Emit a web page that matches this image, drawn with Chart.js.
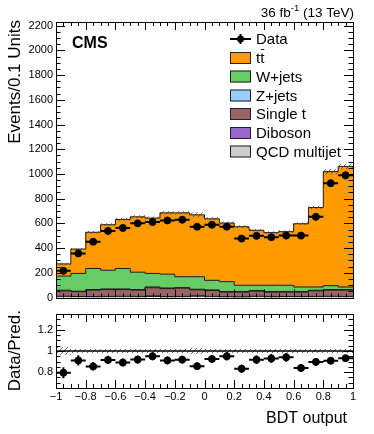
<!DOCTYPE html>
<html>
<head>
<meta charset="utf-8">
<script src="https://cdn.jsdelivr.net/npm/chart.js@4.4.1/dist/chart.umd.min.js"></script>
<style>
body { margin: 0; background: #fff; }
#wrap { position: relative; width: 374px; height: 434px; }
canvas { position: absolute; left: 0; }
</style>
</head>
<body>
<div id="wrap">
  <canvas id="main" width="374" height="305" style="top:0"></canvas>
  <canvas id="ratio" width="374" height="129" style="top:305px"></canvas>
</div>
<script>
// bin edges of the BDT output histogram
const binEdges = [-1, -0.9, -0.8, -0.7, -0.6, -0.5, -0.4, -0.3, -0.2, -0.1, 0,
                  0.1, 0.2, 0.3, 0.4, 0.5, 0.6, 0.7, 0.8, 0.9, 1];

// events per bin
const dataCounts = [216, 357, 451, 539, 563, 600, 611, 624, 629, 573,
                    589, 573, 477, 499, 488, 501, 501, 653, 925, 989];
const dataErr    = [14, 19, 21, 23, 24, 25, 25, 25, 25, 24,
                    24, 24, 22, 22, 22, 22, 22, 26, 30, 31];
const ttbar      = [99, 197, 293, 368, 397, 448, 448, 496, 517, 501,
                    498, 475, 474, 445, 426, 434, 512, 643, 923, 976];
const wjets      = [114, 144, 171, 152, 166, 141, 110, 112, 88, 101,
                    78, 80, 51, 43, 51, 51, 37, 26, 32, 21];
const zjets      = [5, 4, 5, 5, 5, 5, 6, 5, 5, 5, 4, 4, 4, 4, 4, 4, 4, 5, 5, 5];
const singleTop  = [44, 39, 51, 55, 54, 50, 66, 64, 66, 48,
                    48, 37, 38, 42, 37, 36, 36, 45, 49, 50];
const diboson    = [4, 3, 4, 4, 4, 4, 5, 4, 4, 4, 3, 3, 3, 4, 3, 3, 3, 4, 4, 4];
const qcd        = [6, 5, 4, 5, 6, 5, 8, 4, 5, 10, 6, 4, 3, 6, 4, 5, 5, 5, 6, 5];
// relative MC uncertainty per bin
const mcUnc      = [0.037, 0.02, 0.02, 0.02, 0.02, 0.02, 0.02, 0.02, 0.02, 0.03,
                    0.02, 0.02, 0.02, 0.02, 0.02, 0.02, 0.02, 0.02, 0.02, 0.02];

const xTicks = [-1, -0.8, -0.6, -0.4, -0.2, 0, 0.2, 0.4, 0.6, 0.8, 1];
const xTickLabels = ["\u22121", "\u22120.8", "\u22120.6", "\u22120.4", "\u22120.2", "0",
                     "0.2", "0.4", "0.6", "0.8", "1"];
const yTicksMain = [0, 200, 400, 600, 800, 1000, 1200, 1400, 1600, 1800, 2000, 2200];
const yTicksRatio = [0.8, 1, 1.2];

const colors = {
    ttbar: "#ff9a00",
    wjets: "#66cc66",
    zjets: "#99ccff",
    singleTop: "#9a6464",
    diboson: "#9966cc",
    qcd: "#cccccc"
};

const FONT = "'Liberation Sans', Arial, Helvetica, sans-serif";

const centers = binEdges.slice(0, -1).map((e, i) => (e + binEdges[i + 1]) / 2);
const totals = centers.map((c, i) => ttbar[i] + wjets[i] + zjets[i] + singleTop[i] + diboson[i] + qcd[i]);

function stepPoints(vals) {
    return binEdges.map((x, i) => ({ x: x, y: vals[Math.min(i, vals.length - 1)] }));
}

function hatchPattern(ctx) {
    const c = document.createElement('canvas');
    c.width = 5; c.height = 5;
    const g = c.getContext('2d');
    g.strokeStyle = "#444";
    g.lineWidth = 0.8;
    g.beginPath();
    g.moveTo(0, 5); g.lineTo(5, 0);
    g.moveTo(-1, 1); g.lineTo(1, -1);
    g.moveTo(4, 6); g.lineTo(6, 4);
    g.stroke();
    return ctx.createPattern(c, 'repeat');
}

// frame + inward ticks, ROOT style
function drawFrame(chart, xs, ys, opt) {
    const ctx = chart.ctx, a = chart.chartArea;
    const x = chart.scales.x, y = chart.scales.y;
    ctx.save();
    ctx.strokeStyle = "#000";
    ctx.lineWidth = 1;
    ctx.beginPath();
    xs.minor.forEach(v => {
        const px = Math.round(x.getPixelForValue(v)) + 0.5;
        const len = xs.major.includes(+v.toFixed(2)) ? opt.xMajor : opt.xMinor;
        ctx.moveTo(px, a.bottom); ctx.lineTo(px, a.bottom - len);
        ctx.moveTo(px, a.top); ctx.lineTo(px, a.top + len);
    });
    ys.minor.forEach(v => {
        const py = Math.round(y.getPixelForValue(v)) + 0.5;
        const len = ys.major.some(m => Math.abs(m - v) < 1e-6) ? opt.yMajor : opt.yMinor;
        ctx.moveTo(a.left, py); ctx.lineTo(a.left + len, py);
        ctx.moveTo(a.right, py); ctx.lineTo(a.right - len, py);
    });
    ctx.stroke();
    ctx.strokeRect(Math.round(a.left) + 0.5, Math.round(a.top) + 0.5,
                   Math.round(a.right - a.left), Math.round(a.bottom - a.top));
    // y labels
    ctx.fillStyle = "#000";
    ctx.font = "11px " + FONT;
    ctx.textAlign = "right";
    ctx.textBaseline = "middle";
    ys.major.forEach(v => {
        ctx.fillText(ys.fmt(v), a.left - 3, y.getPixelForValue(v));
    });
    ctx.restore();
}

function range(from, to, step) {
    const out = [];
    for (let v = from; v <= to + 1e-9; v += step) out.push(+v.toFixed(4));
    return out;
}

const xMinorTicks = range(-1, 1, 0.05);

function drawDataErrors(chart, vals, errs) {
    const ctx = chart.ctx, x = chart.scales.x, y = chart.scales.y;
    ctx.save();
    ctx.strokeStyle = "#000";
    ctx.lineWidth = 2;
    ctx.beginPath();
    centers.forEach((c, i) => {
        const x0 = x.getPixelForValue(binEdges[i]), x1 = x.getPixelForValue(binEdges[i + 1]);
        const py = y.getPixelForValue(vals[i]);
        const px = x.getPixelForValue(c);
        ctx.moveTo(x0, py); ctx.lineTo(x1, py);
        ctx.moveTo(px, y.getPixelForValue(vals[i] - errs[i]));
        ctx.lineTo(px, y.getPixelForValue(vals[i] + errs[i]));
    });
    ctx.stroke();
    ctx.restore();
}

const mainPlugin = {
    id: 'mainDecor',
    beforeDatasetDraw(chart, args) {
        if (args.index !== 6) return;
        const ctx = chart.ctx, x = chart.scales.x, y = chart.scales.y;
        ctx.save();
        ctx.fillStyle = hatchPattern(ctx);
        totals.forEach((t, i) => {
            const x0 = x.getPixelForValue(binEdges[i]), x1 = x.getPixelForValue(binEdges[i + 1]);
            const y0 = y.getPixelForValue(t * (1 + mcUnc[i])), y1 = y.getPixelForValue(t * (1 - mcUnc[i]));
            ctx.fillRect(x0, y0, x1 - x0, y1 - y0);
        });
        ctx.restore();
        drawDataErrors(chart, dataCounts, dataErr);
    },
    afterDraw(chart) {
        const ctx = chart.ctx;
        drawFrame(chart, { major: xTicks, minor: xMinorTicks },
                  { major: yTicksMain, minor: range(0, 2200, 50), fmt: v => String(v) },
                  { xMajor: 8, xMinor: 4, yMajor: 9, yMinor: 4.5 });
        ctx.save();
        ctx.fillStyle = "#000";
        // axis title
        ctx.translate(15, 20);
        ctx.rotate(-Math.PI / 2);
        ctx.font = "17px " + FONT;
        ctx.textAlign = "right";
        ctx.textBaseline = "middle";
        ctx.fillText("Events/0.1 Units", 0, 0);
        ctx.restore();

        ctx.save();
        ctx.fillStyle = "#000";
        ctx.font = "bold 16px " + FONT;
        ctx.textBaseline = "alphabetic";
        ctx.fillText("CMS", 72, 48);
        // lumi label
        ctx.font = "13.5px " + FONT;
        ctx.textAlign = "right";
        const tail = " (13 TeV)";
        const wTail = ctx.measureText(tail).width;
        ctx.fillText(tail, 354, 17);
        ctx.font = "9.5px " + FONT;
        const wSup = ctx.measureText("-1").width;
        ctx.fillText("-1", 354 - wTail, 11);
        ctx.font = "13.5px " + FONT;
        ctx.fillText("36 fb", 354 - wTail - wSup, 17);

        // legend
        const lx = 230, tx = 256, rows = [39, 58, 76.5, 95.5, 114, 133, 151.5];
        ctx.strokeStyle = "#000";
        ctx.lineWidth = 2;
        ctx.beginPath();
        ctx.moveTo(lx, rows[0]); ctx.lineTo(lx + 21, rows[0]);
        ctx.moveTo(lx + 10.5, rows[0] - 5); ctx.lineTo(lx + 10.5, rows[0] + 5);
        ctx.stroke();
        ctx.beginPath();
        ctx.arc(lx + 10.5, rows[0], 3.5, 0, Math.PI * 2);
        ctx.fill();
        const entries = [
            ["tt", colors.ttbar], ["W+jets", colors.wjets], ["Z+jets", colors.zjets],
            ["Single t", colors.singleTop], ["Diboson", colors.diboson], ["QCD multijet", colors.qcd]
        ];
        ctx.lineWidth = 1;
        ctx.textAlign = "left";
        ctx.textBaseline = "middle";
        ctx.font = "15px " + FONT;
        ctx.fillText("Data", tx, rows[0] + 1);
        entries.forEach((e, i) => {
            const cy = rows[i + 1];
            ctx.fillStyle = e[1];
            ctx.fillRect(lx, cy - 6, 21, 12);
            ctx.strokeStyle = "#222";
            ctx.strokeRect(lx + 0.5, cy - 5.5, 20, 11);
            ctx.fillStyle = "#000";
            ctx.fillText(e[0], tx, cy + 1);
        });
        // bar over the second t
        const tw = ctx.measureText("t").width;
        ctx.beginPath();
        ctx.moveTo(tx + tw + 0.5, rows[1] - 8.5);
        ctx.lineTo(tx + 2 * tw, rows[1] - 8.5);
        ctx.stroke();
        ctx.restore();
    }
};

const ratioPlugin = {
    id: 'ratioDecor',
    beforeDatasetsDraw(chart) {
        const ctx = chart.ctx, x = chart.scales.x, y = chart.scales.y, a = chart.chartArea;
        ctx.save();
        ctx.fillStyle = hatchPattern(ctx);
        mcUnc.forEach((u, i) => {
            const x0 = x.getPixelForValue(binEdges[i]), x1 = x.getPixelForValue(binEdges[i + 1]);
            const y0 = y.getPixelForValue(1 + u), y1 = y.getPixelForValue(1 - u);
            ctx.fillRect(x0, y0, x1 - x0, y1 - y0);
        });
        ctx.strokeStyle = "#000";
        ctx.lineWidth = 1.5;
        ctx.beginPath();
        ctx.moveTo(a.left, y.getPixelForValue(1));
        ctx.lineTo(a.right, y.getPixelForValue(1));
        ctx.stroke();
        ctx.restore();
        drawDataErrors(chart, ratioVals, ratioErr);
    },
    afterDraw(chart) {
        const ctx = chart.ctx, a = chart.chartArea, x = chart.scales.x;
        drawFrame(chart, { major: xTicks, minor: xMinorTicks },
                  { major: yTicksRatio, minor: range(0.65, 1.35, 0.05), fmt: v => String(v) },
                  { xMajor: 8, xMinor: 4, yMajor: 9, yMinor: 4.5 });
        ctx.save();
        ctx.fillStyle = "#000";
        ctx.font = "11px " + FONT;
        ctx.textAlign = "center";
        ctx.textBaseline = "top";
        xTicks.forEach((v, i) => ctx.fillText(xTickLabels[i], x.getPixelForValue(v), a.bottom + 3));
        ctx.font = "16px " + FONT;
        ctx.textAlign = "right";
        ctx.textBaseline = "alphabetic";
        ctx.fillText("BDT output", 347, 118);
        ctx.translate(15, 5);
        ctx.rotate(-Math.PI / 2);
        ctx.font = "17px " + FONT;
        ctx.textAlign = "right";
        ctx.textBaseline = "middle";
        ctx.fillText("Data/Pred.", 0, 0);
        ctx.restore();
    }
};

const ratioVals = dataCounts.map((d, i) => d / totals[i]);
const ratioErr = dataErr.map((e, i) => e / totals[i]);

function mcSet(label, vals, color, fill) {
    return {
        label: label,
        data: stepPoints(vals),
        stepped: true,
        fill: fill,
        backgroundColor: color,
        borderColor: "#1a1a1a",
        borderWidth: 1,
        pointRadius: 0,
        stack: 'mc',
        order: 1
    };
}

const commonOpts = {
    responsive: false,
    animation: false,
    events: [],
    plugins: { legend: { display: false }, tooltip: { enabled: false } }
};

new Chart(document.getElementById('main').getContext('2d'), {
    type: 'line',
    data: {
        datasets: [
            mcSet("QCD multijet", qcd, colors.qcd, 'origin'),
            mcSet("Diboson", diboson, colors.diboson, '-1'),
            mcSet("Single t", singleTop, colors.singleTop, '-1'),
            mcSet("Z+jets", zjets, colors.zjets, '-1'),
            mcSet("W+jets", wjets, colors.wjets, '-1'),
            mcSet("tt", ttbar, colors.ttbar, '-1'),
            {
                label: "Data",
                data: centers.map((c, i) => ({ x: c, y: dataCounts[i] })),
                showLine: false,
                pointRadius: 3.5,
                pointBackgroundColor: "#000",
                pointBorderColor: "#000",
                stack: 'data',
                order: 0
            }
        ]
    },
    options: Object.assign({}, commonOpts, {
        layout: { padding: { left: 56, right: 21, top: 22, bottom: 7.5 } },
        scales: {
            x: { type: 'linear', min: -1, max: 1, display: false },
            y: { type: 'linear', min: 0, max: 2230, stacked: true, display: false }
        }
    }),
    plugins: [mainPlugin]
});

new Chart(document.getElementById('ratio').getContext('2d'), {
    type: 'line',
    data: {
        datasets: [{
            label: "Data/Pred.",
            data: centers.map((c, i) => ({ x: c, y: ratioVals[i] })),
            showLine: false,
            pointRadius: 3.5,
            pointBackgroundColor: "#000",
            pointBorderColor: "#000"
        }]
    },
    options: Object.assign({}, commonOpts, {
        layout: { padding: { left: 56, right: 21, top: 9, bottom: 46 } },
        scales: {
            x: { type: 'linear', min: -1, max: 1, display: false },
            y: { type: 'linear', min: 0.65, max: 1.35, display: false }
        }
    }),
    plugins: [ratioPlugin]
});
</script>
</body>
</html>
